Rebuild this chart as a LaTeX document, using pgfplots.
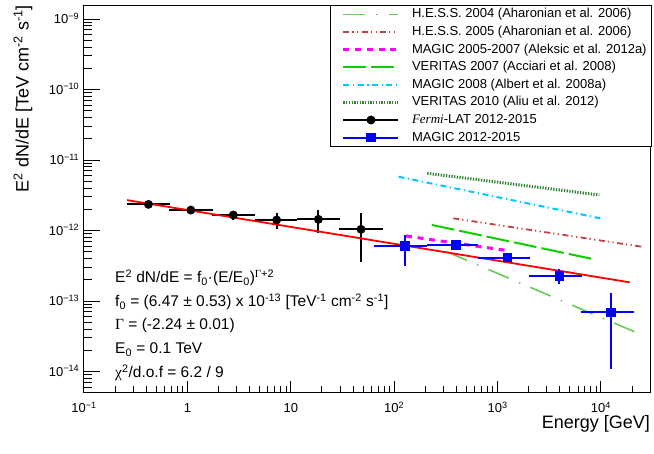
\documentclass[border=0pt]{standalone}
\usepackage{fontspec}
\setmainfont{Liberation Sans}
\newfontfamily\serif{Liberation Serif}
\usepackage{pgfplots}
\pgfplotsset{compat=1.18}
\definecolor{hessA}{RGB}{102,204,85}
\definecolor{hessB}{RGB}{196,64,64}
\definecolor{magA}{RGB}{255,0,255}
\definecolor{verA}{RGB}{17,204,0}
\definecolor{magB}{RGB}{0,200,255}
\definecolor{verB}{RGB}{50,130,50}
\pgfplotsset{
  linelegend/.style={legend image code/.code={\path (-7pt,0pt); \draw[mark repeat=2,mark phase=2,##1] plot coordinates {(0pt,0pt) (27.5pt,0pt) (55pt,0pt)};}},
  ptlegend/.style={legend image code/.code={\path (-7pt,0pt); \draw[##1,sharp plot,mark repeat=2,mark phase=2] plot coordinates {(0pt,0pt) (27.5pt,0pt) (55pt,0pt)};}},
}
\begin{document}
\begin{tikzpicture}[x=1pt,y=1pt]
\begin{axis}[
  at={(84pt,61pt)}, anchor=south west, scale only axis,
  width=566pt, height=387pt,
  xmode=log, ymode=log,
  xmin=0.1, xmax=29800, ymin=5.12e-15, ymax=1.58e-9,
  tick pos=left, tick align=inside,
  axis line style={line width=1pt},
  tick style={line width=1pt, black},
  ytick=\empty,
  xtick={0.1,1,10,100,1000,10000},
  minor xtick={0.2,0.3,0.4,0.5,0.6,0.7,0.8,0.9,2,3,4,5,6,7,8,9,20,30,40,50,60,70,80,90,200,300,400,500,600,700,800,900,2000,3000,4000,5000,6000,7000,8000,9000,20000},
  xticklabels={10\textsuperscript{−1},1,10,10\textsuperscript{2},10\textsuperscript{3},10\textsuperscript{4}},
  major tick length=11pt, minor tick length=6pt,
  xticklabel style={font=\fontsize{13}{15}\selectfont, anchor=base, inner sep=0pt, yshift=-20.7pt},
]
\end{axis}
\begin{axis}[
  at={(84pt,61pt)}, anchor=south west, scale only axis,
  width=566pt, height=387pt,
  xmode=log, ymode=log,
  xmin=0.1, xmax=29800, ymin=5.12e-15, ymax=1.58e-9,
  tick pos=left, tick align=inside,
  axis line style={line width=1pt},
  tick style={line width=1pt, black},
  xtick=\empty,
  ytick={1e-14,1e-13,1e-12,1e-11,1e-10,1e-9},
  yticklabels={10\textsuperscript{−14},10\textsuperscript{−13},10\textsuperscript{−12},10\textsuperscript{−11},10\textsuperscript{−10},10\textsuperscript{−9}},
  minor ytick={6e-15,7e-15,8e-15,9e-15,2e-14,3e-14,4e-14,5e-14,6e-14,7e-14,8e-14,9e-14,2e-13,3e-13,4e-13,5e-13,6e-13,7e-13,8e-13,9e-13,2e-12,3e-12,4e-12,5e-12,6e-12,7e-12,8e-12,9e-12,2e-11,3e-11,4e-11,5e-11,6e-11,7e-11,8e-11,9e-11,2e-10,3e-10,4e-10,5e-10,6e-10,7e-10,8e-10,9e-10},
  major tick length=16pt, minor tick length=8pt,
  yticklabel style={font=\fontsize{13}{15}\selectfont, anchor=base east, inner sep=0pt, xshift=-4.5pt, yshift=-4.65pt},
  legend style={at={(rel axis cs:1,1)}, anchor=north east, xshift=2pt,
    draw=black, line width=0.8pt, fill=white,
    inner xsep=5pt, inner ysep=2.5pt, row sep=4.6pt, column sep=12pt,
    font=\fontsize{13}{15}\selectfont,
    nodes={inner sep=0pt, text height=10pt, text depth=3pt}},
  legend cell align=left,
  linelegend,
]
\addplot[hessA, line width=1.6pt, dash pattern=on 22pt off 11pt on 1.5pt off 11pt] coordinates {(322,5.0e-13) (23800,3.4e-14)};
\addlegendentry{H.E.S.S. 2004 (Aharonian et al. 2006)}
\addplot[hessB, line width=1.8pt, dash pattern=on 6pt off 3pt on 1.2pt off 3.5pt on 1.2pt off 3.5pt] coordinates {(373,1.49e-12) (24800,5.89e-13)};
\addlegendentry{H.E.S.S. 2005 (Aharonian et al. 2006)}
\addplot[magA, line width=3pt, dash pattern=on 6pt off 5.7pt] coordinates {(130,8.36e-13) (1270,5.17e-13)};
\addlegendentry{MAGIC 2005-2007 (Aleksic et al. 2012a)}
\addplot[verA, line width=2pt, dash pattern=on 23pt off 5pt] coordinates {(231,1.2e-12) (8610,3.9e-13)};
\addlegendentry{VERITAS 2007 (Acciari et al. 2008)}
\addplot[magB, line width=2pt, dash pattern=on 6pt off 3.5pt on 1.3pt off 3.5pt] coordinates {(110,5.8e-12) (10500,1.46e-12)};
\addlegendentry{MAGIC 2008 (Albert et al. 2008a)}
\addplot[verB, line width=3pt, dash pattern=on 1.3pt off 1.4pt] coordinates {(209,6.48e-12) (9640,3.19e-12)};
\addlegendentry{VERITAS 2010 (Aliu et al. 2012)}
\addplot[black, line width=2pt, mark=*, mark size=3.4pt, only marks, ptlegend,
  error bars/.cd, x dir=both, x explicit, y dir=both, y explicit, error mark=none,
  error bar style={line width=2pt, black}]
coordinates {
(0.42,2.35e-12) += (0.26,0.25e-12) -= (0.16,0.22e-12)
(1.08,1.95e-12) += (0.70,0.22e-12) -= (0.41,0.24e-12)
(2.78,1.66e-12) += (1.72,0.25e-12) -= (1.06,0.25e-12)
(7.3,1.41e-12) += (4.3,0.34e-12) -= (2.8,0.36e-12)
(18.5,1.44e-12) += (11.5,0.51e-12) -= (6.9,0.53e-12)
(47.8,1.04e-12) += (30.2,0.71e-12) -= (18.8,0.68e-12)
};
\addlegendentry{{\serif\itshape Fermi}-LAT 2012-2015}
\addplot[red, line width=1.8pt, forget plot] coordinates {(0.26,2.70e-12) (19000,1.84e-13)};
\addplot[blue, line width=2pt, mark=square*, mark size=3.6pt, only marks, ptlegend,
  error bars/.cd, x dir=both, x explicit, y dir=both, y explicit, error mark=none,
  error bar style={line width=2pt, blue}]
coordinates {
(127,6.03e-13) += (79,2.60e-13) -= (63,2.86e-13)
(396,6.23e-13) += (254,1.10e-13) -= (190,0.94e-13)
(1253,4.11e-13) += (797,0.48e-13) -= (603,0.50e-13)
(3955,2.26e-13) += (2545,0.56e-13) -= (1955,0.52e-13)
(12500,0.69e-13) += (8500,0.595e-13) -= (6100,0.583e-13)
};
\addlegendentry{MAGIC 2012-2015}
\end{axis}
\node[rotate=90, anchor=east, inner sep=0pt, font=\fontsize{18}{20}\selectfont] at (23,448) {E\textsuperscript{2} dN/dE [TeV cm\textsuperscript{-2} s\textsuperscript{-1}]};
\node[anchor=east, inner sep=0pt, font=\fontsize{18}{20}\selectfont] at (650,29) {Energy [GeV]};
\begin{scope}[every node/.style={anchor=base west, inner sep=0pt, font=\fontsize{15.5}{18}\selectfont}]
\node at (115,170.5) {E\textsuperscript{2} dN/dE = f\textsubscript{0}·(E/E\textsubscript{0})\textsuperscript{{\serif Γ}+2}};
\node at (115,146.5) {f\textsubscript{0} = (6.47 ± 0.53) x 10\textsuperscript{-13} [TeV\textsuperscript{-1} cm\textsuperscript{-2} s\textsuperscript{-1}]};
\node at (115,123.5) {{\serif Γ} = (-2.24 ± 0.01)};
\node at (115,99.5) {E\textsubscript{0} = 0.1 TeV};
\node at (115,75.5) {{\serif χ}\textsuperscript{2}/d.o.f = 6.2 / 9};
\end{scope}
\pgfresetboundingbox
\useasboundingbox (0,0) rectangle (654,453);
\end{tikzpicture}
\end{document}
